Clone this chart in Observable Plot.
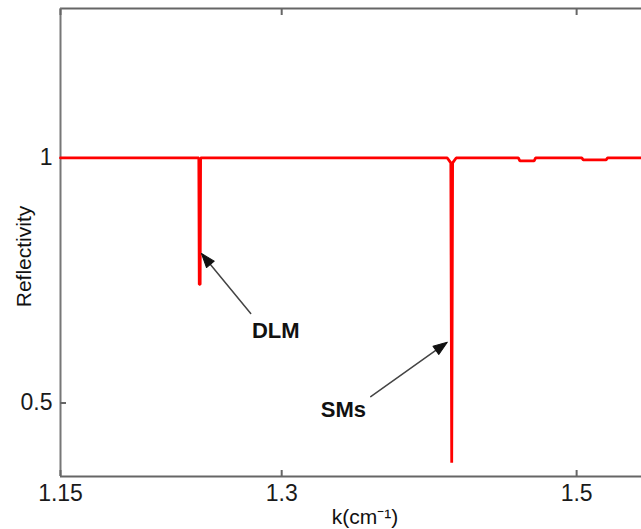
<!DOCTYPE html>
<html>
<head>
<meta charset="utf-8">
<script src="https://cdn.jsdelivr.net/npm/d3@7"></script>
<script src="https://cdn.jsdelivr.net/npm/@observablehq/plot@0.6"></script>
<style>
  html, body { margin: 0; padding: 0; background: #fff; }
  #chart svg { display: block; }
</style>
</head>
<body>
<div id="chart"></div>
<script>
// Wavenumber k (cm^-1) and reflectivity
const kValues = [1.15, 1.2438, 1.2441, 1.2444, 1.2447, 1.2450,
  1.4123, 1.4147, 1.4153, 1.4159, 1.4183,
  1.4605, 1.4615, 1.4712, 1.4722,
  1.5035, 1.5045, 1.5200, 1.5210, 1.5440];
const reflValues = [1, 1, 0.742, 0.742, 0.742, 1,
  1, 0.99, 0.378, 0.99, 1,
  1, 0.994, 0.994, 1,
  1, 0.996, 0.996, 1, 1];

const xTicks = [1.15, 1.3, 1.5];
const yTicks = [0.5, 1];
const xDomain = [1.15, 1.544];
const yDomain = [0.35, 1.305];

// Annotations
const annLabels = ["DLM", "SMs"];
const annTextK = [1.296, 1.3418];
const annTextR = [0.648, 0.485];
const arrowFromK = [1.279, 1.3604];
const arrowFromR = [0.6826, 0.513];
const arrowToK = [1.2456, 1.4123];
const arrowToR = [0.805, 0.624];

const W = 641, H = 529, mL = 60, mR = 0, mT = 8, mB = 53;
const line = kValues.map((k, i) => ({k, r: reflValues[i]}));
const ann = annLabels.map((label, i) => ({
  label, tk: annTextK[i], tr: annTextR[i],
  fk: arrowFromK[i], fr: arrowFromR[i], hk: arrowToK[i], hr: arrowToR[i]
}));

// pixel-space direction for arrowheads
const sx = d3.scaleLinear(xDomain, [mL, W - mR]);
const sy = d3.scaleLinear(yDomain, [H - mB, mT]);
ann.forEach(d => {
  const dx = sx(d.hk) - sx(d.fk), dy = sy(d.hr) - sy(d.fr);
  d.angle = Math.atan2(dx, -dy) * 180 / Math.PI;
});

const headShape = {
  draw(context, l) {
    context.moveTo(0, -l);
    context.lineTo(-5, 0);
    context.lineTo(5, 0);
    context.closePath();
  }
};

const font = "'Liberation Sans', Arial, sans-serif";

const plot = Plot.plot({
  width: W, height: H,
  marginLeft: mL, marginRight: mR, marginTop: mT, marginBottom: mB,
  style: {fontFamily: font, background: "#fff", color: "#1a1a1a"},
  x: {domain: xDomain, label: null},
  y: {domain: yDomain, label: null},
  marks: [
    Plot.ruleY([yDomain[1]], {stroke: "#666", strokeWidth: 2}),
    Plot.ruleY([yDomain[0]], {stroke: "#666", strokeWidth: 2}),
    Plot.ruleX([xDomain[0]], {stroke: "#777", strokeWidth: 2}),
    Plot.axisX({ticks: xTicks, tickSize: -6, tickPadding: 14, tickFormat: d => String(d),
      fontSize: 23, stroke: "#666", strokeWidth: 2, label: null}),
    Plot.axisX({anchor: "top", ticks: xTicks, tickSize: -6, tickFormat: () => "",
      stroke: "#666", strokeWidth: 2, label: null}),
    Plot.axisY({ticks: yTicks, tickSize: -6, tickPadding: 14, tickFormat: d => String(d),
      fontSize: 23, stroke: "#666", strokeWidth: 2, label: null}),
    Plot.line(line, {x: "k", y: "r", stroke: "#ff0000", strokeWidth: 2.8, strokeLinejoin: "miter"}),
    Plot.arrow(ann, {x1: "fk", y1: "fr", x2: "hk", y2: "hr", stroke: "#444", strokeWidth: 1.5, headLength: 0, insetEnd: 6}),
    Plot.vector(ann, {x: "hk", y: "hr", rotate: "angle", length: 14, anchor: "end", shape: headShape,
      fill: "#111", stroke: "#111", strokeWidth: 1}),
    Plot.text(ann, {x: "tk", y: "tr", text: "label", fontSize: 22, fontWeight: "bold", fill: "#111"}),
    Plot.text(["Reflectivity"], {frameAnchor: "left", textAnchor: "middle", dx: -36, dy: 14, rotate: -90, fontSize: 21, fill: "#111"}),
    Plot.text(["k(cm⁻¹)"], {frameAnchor: "bottom", lineAnchor: "middle", dx: 14, dy: 41, fontSize: 21, fill: "#111"})
  ]
});
document.getElementById("chart").appendChild(plot);
</script>
</body>
</html>
